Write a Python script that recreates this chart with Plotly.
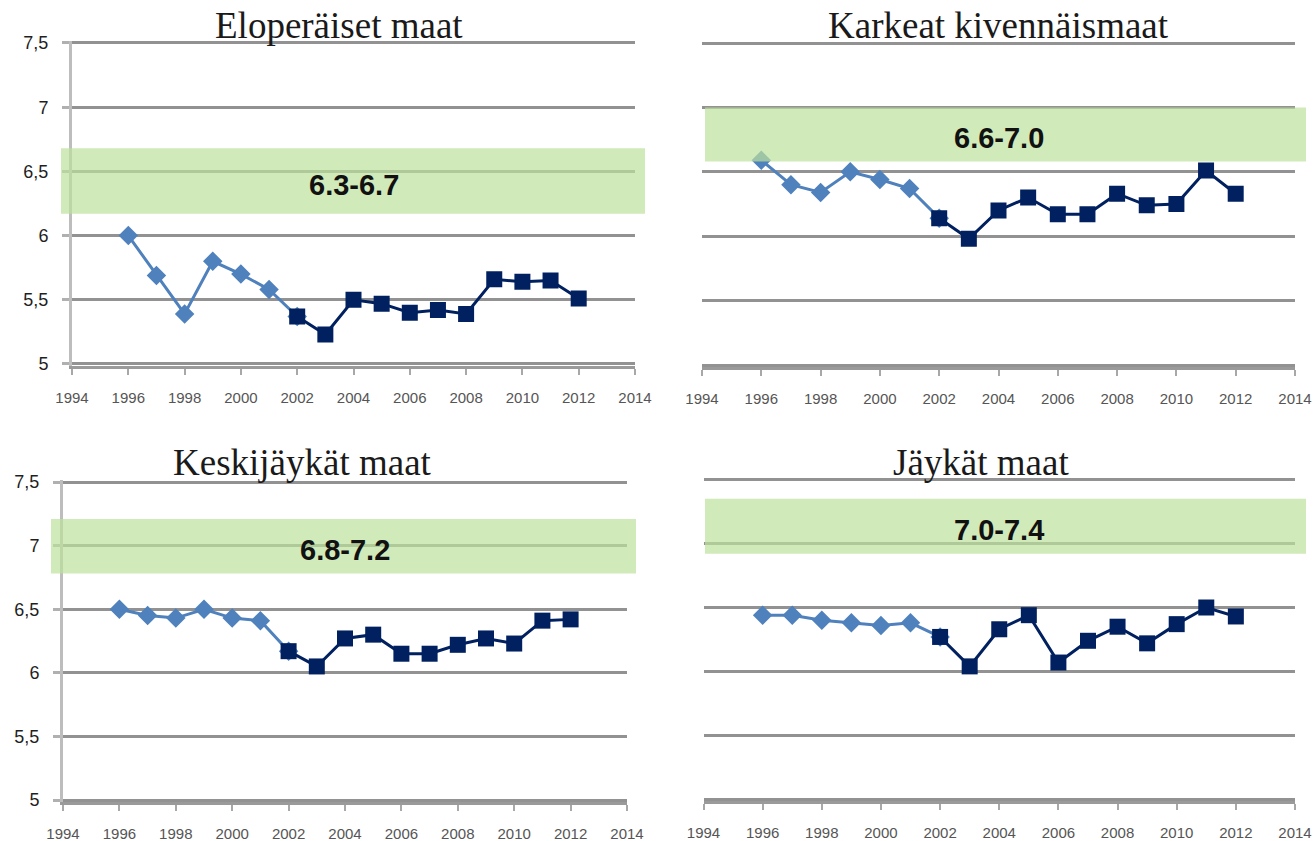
import plotly.graph_objects as go

W, H = 1315, 841

years = list(range(1996, 2013))
titles = ["Eloperäiset maat", "Karkeat kivennäismaat", "Keskijäykät maat", "Jäykät maat"]
elop = [6.00, 5.69, 5.39, 5.80, 5.70, 5.58, 5.37, 5.23, 5.50, 5.47, 5.40, 5.42, 5.39, 5.66, 5.64, 5.65, 5.51]
karkeat = [6.59, 6.40, 6.34, 6.50, 6.44, 6.37, 6.14, 5.98, 6.20, 6.30, 6.17, 6.17, 6.33, 6.24, 6.25, 6.51, 6.33]
keski = [6.50, 6.45, 6.43, 6.50, 6.43, 6.41, 6.17, 6.05, 6.27, 6.30, 6.15, 6.15, 6.22, 6.27, 6.23, 6.41, 6.42]
jaykat = [6.44, 6.44, 6.40, 6.38, 6.36, 6.38, 6.27, 6.04, 6.33, 6.44, 6.07, 6.24, 6.35, 6.22, 6.37, 6.50, 6.43]
series = [elop, karkeat, keski, jaykat]
split_year = 2002  # light series up to here, dark series from here

band_labels = ["6.3-6.7", "6.6-7.0", "6.8-7.2", "7.0-7.4"]
band_low = [6.17, 6.58, 6.78, 6.92]
band_high = [6.68, 7.00, 7.21, 7.35]

xtick_vals = list(range(1994, 2015, 2))
xtick_text = [str(v) for v in xtick_vals]
ytick_vals = [5, 5.5, 6, 6.5, 7, 7.5]
ytick_text = ["5", "5,5", "6", "6,5", "7", "7,5"]
Y_MIN, Y_MAX = 5, 7.5
PAD = 0.012  # small range padding so the top gridline is drawn

# layout geometry in pixels (left, right, top, bottom) of each plot area
panels = [
    dict(l=72, r=635, t=43, b=364, ylabels=True, band=(61, 645), title=(339, 26)),
    dict(l=702, r=1295, t=43, b=365, ylabels=False, band=(705, 1306), title=(998, 26)),
    dict(l=63, r=627, t=482, b=800, ylabels=True, band=(51, 636), title=(302, 462)),
    dict(l=703.5, r=1295, t=479.5, b=799.5, ylabels=False, band=(705, 1306), title=(981, 462)),
]

LIGHT = "#4F81BD"
DARK = "#002060"
GRID = "#929292"

fig = go.Figure()
shapes = []
annotations = []

for i, p in enumerate(panels):
    n = "" if i == 0 else str(i + 1)
    xa, ya = "x" + n, "y" + n
    vals = series[i]
    k = years.index(split_year)
    fig.add_trace(go.Scatter(
        x=years[:k + 1], y=vals[:k + 1], xaxis=xa, yaxis=ya, mode="lines+markers",
        line=dict(color=LIGHT, width=3),
        marker=dict(symbol="diamond", size=15, color=LIGHT),
        showlegend=False, hoverinfo="x+y"))
    fig.add_trace(go.Scatter(
        x=years[k:], y=vals[k:], xaxis=xa, yaxis=ya, mode="lines+markers",
        line=dict(color=DARK, width=3),
        marker=dict(symbol="square", size=16, color=DARK),
        showlegend=False, hoverinfo="x+y"))

    ppu = (p["b"] - p["t"]) / (Y_MAX - Y_MIN)
    top_px = p["t"] - PAD * ppu
    bot_px = p["b"] + PAD * ppu
    xdom = [p["l"] / W, p["r"] / W]
    ydom = [(H - bot_px) / H, (H - top_px) / H]
    fig.update_layout(**{
        ("xaxis" + n): dict(
            domain=xdom, anchor=ya, range=[1994, 2014], automargin=False,
            tickvals=xtick_vals, ticktext=xtick_text, ticklabeloverflow="allow",
            showgrid=False, zeroline=False,
            showline=True, linecolor="#9a9a9a", linewidth=3,
            ticks="outside", ticklen=6, tickwidth=2, tickcolor="#a8a8a8",
            ticklabelstandoff=10,
            tickfont=dict(family="Liberation Sans", size=15, color="#555555"),
        ),
        ("yaxis" + n): dict(
            domain=ydom, anchor=xa, range=[Y_MIN - PAD, Y_MAX + PAD], automargin=False,
            tickvals=ytick_vals, ticktext=ytick_text,
            showgrid=True, gridcolor=GRID, gridwidth=3, zeroline=False,
            showline=p["ylabels"], linecolor="#bdbdbd", linewidth=3,
            ticks="outside" if p["ylabels"] else "", ticklen=7, tickwidth=3, tickcolor="#b0b0b0",
            showticklabels=p["ylabels"], ticklabelstandoff=10,
            tickfont=dict(family="Liberation Sans", size=18, color="#1f1f1f"),
        ),
    })

    # green target band (semi-transparent, above data like in original)
    shapes.append(dict(
        type="rect", xref="paper", yref=ya,
        x0=p["band"][0] / W, x1=p["band"][1] / W,
        y0=band_low[i], y1=band_high[i],
        fillcolor="rgb(190,225,155)", opacity=0.7, line=dict(width=0), layer="above"))
    annotations.append(dict(
        x=2004, y=(band_low[i] + band_high[i]) / 2, xref=xa, yref=ya,
        text="<b>" + band_labels[i] + "</b>", showarrow=False, yshift=-4,
        font=dict(family="Liberation Sans", size=29, color="#111111")))
    annotations.append(dict(
        x=p["title"][0] / W, y=1 - p["title"][1] / H, xref="paper", yref="paper",
        text=titles[i], showarrow=False, xanchor="center", yanchor="middle",
        font=dict(family="Liberation Serif", size=37, color="#1a1a1a")))

fig.update_layout(
    width=W, height=H,
    margin=dict(l=0, r=0, t=0, b=0, autoexpand=False),
    paper_bgcolor="white", plot_bgcolor="white",
    shapes=shapes, annotations=annotations,
    showlegend=False,
)

fig.write_html("out.html", config={"displayModeBar": False},
               post_script="document.body.style.margin='0';")
